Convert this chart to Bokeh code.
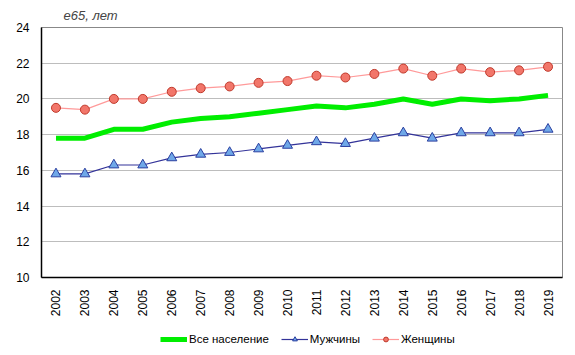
from math import pi
from bokeh.plotting import figure
from bokeh.layouts import column
from bokeh.models import FactorRange, Legend, LegendItem, Range1d, FixedTicker
from bokeh.embed import file_html
from bokeh.resources import INLINE

years = [str(y) for y in range(2002, 2020)]
all_pop = [17.8, 17.8, 18.3, 18.3, 18.7, 18.9, 19.0, 19.2, 19.4, 19.6, 19.5, 19.7, 20.0, 19.7, 20.0, 19.9, 20.0, 20.2]
men = [15.8, 15.8, 16.3, 16.3, 16.7, 16.9, 17.0, 17.2, 17.4, 17.6, 17.5, 17.8, 18.1, 17.8, 18.1, 18.1, 18.1, 18.3]
women = [19.5, 19.4, 20.0, 20.0, 20.4, 20.6, 20.7, 20.9, 21.0, 21.3, 21.2, 21.4, 21.7, 21.3, 21.7, 21.5, 21.6, 21.8]
y_ticks = [10, 12, 14, 16, 18, 20, 22, 24]
series_names = ["Все население", "Мужчины", "Женщины"]

FONT = "Liberation Sans"

p = figure(width=575, height=322, x_range=FactorRange(*years), y_range=Range1d(10, 24),
           output_backend="svg", toolbar_location=None,
           min_border_left=41, min_border_right=13, min_border_top=27, min_border_bottom=45)

p.title.text = "e65, лет"
p.title.text_font = FONT
p.title.text_font_style = "italic"
p.title.text_font_size = "13px"
p.title.align = "left"
p.title.offset = 22

p.outline_line_color = "#888888"
p.outline_line_width = 1

p.xgrid.grid_line_color = None
p.ygrid.grid_line_color = "#bdbdbd"
p.ygrid.grid_line_width = 1

p.yaxis.ticker = FixedTicker(ticks=y_ticks)
for ax in (p.xaxis, p.yaxis):
    ax.axis_line_color = "black"
    ax.axis_line_width = 1.5
    ax.major_tick_line_color = None
    ax.minor_tick_line_color = None
    ax.major_label_text_font = FONT
    ax.major_label_text_font_size = "12px"
    ax.major_label_text_color = "black"
p.yaxis.major_label_standoff = 6
p.xaxis.major_label_orientation = pi / 2
p.xaxis.major_label_standoff = 6

GREEN, MEN_L, MEN_F, MEN_E = "#00ee00", "#333399", "#6fa8e8", "#2a3fa0"
W_L, W_F, W_E = "#ff9a9a", "#f2766a", "#c0392b"

p.line(years, all_pop, line_color=GREEN, line_width=5)
p.line(years, men, line_color=MEN_L, line_width=1.2)
p.scatter(years, men, marker="triangle", size=10, fill_color=MEN_F, line_color=MEN_E, line_width=1)
p.line(years, women, line_color=W_L, line_width=1.2)
p.scatter(years, women, marker="circle", size=9, fill_color=W_F, line_color=W_E, line_width=1)

# legend strip below the chart (series drawn out of view; only their legend swatches show)
lf = figure(width=575, height=33, x_range=FactorRange(*years), y_range=Range1d(0, 1),
            output_backend="svg", toolbar_location=None,
            x_axis_location=None, y_axis_location=None,
            min_border_left=0, min_border_right=0, min_border_top=0, min_border_bottom=0)
lf.grid.visible = False
lf.outline_line_color = None

g_all = lf.line(years, all_pop, line_color=GREEN, line_width=5)
g_ml = lf.line(years, men, line_color=MEN_L, line_width=1.2)
g_mm = lf.scatter(years, men, marker="triangle", size=5, fill_color=MEN_F, line_color=MEN_E, line_width=1)
g_wl = lf.line(years, women, line_color=W_L, line_width=1.2)
g_wm = lf.scatter(years, women, marker="circle", size=5, fill_color=W_F, line_color=W_E, line_width=1)

legend = Legend(items=[
    LegendItem(label=series_names[0], renderers=[g_all]),
    LegendItem(label=series_names[1], renderers=[g_ml, g_mm]),
    LegendItem(label=series_names[2], renderers=[g_wl, g_wm]),
], orientation="horizontal", location=(119, 10))
legend.border_line_color = None
legend.background_fill_alpha = 0
legend.label_text_font = FONT
legend.label_text_font_size = "11.5px"
legend.label_text_color = "black"
legend.glyph_width = 27
legend.glyph_height = 12
legend.spacing = 12
legend.padding = 4
legend.margin = 0
legend.label_standoff = 2
legend.label_height = 12
lf.add_layout(legend)

open("out.html", "w").write(file_html(column(p, lf, spacing=0), INLINE))
